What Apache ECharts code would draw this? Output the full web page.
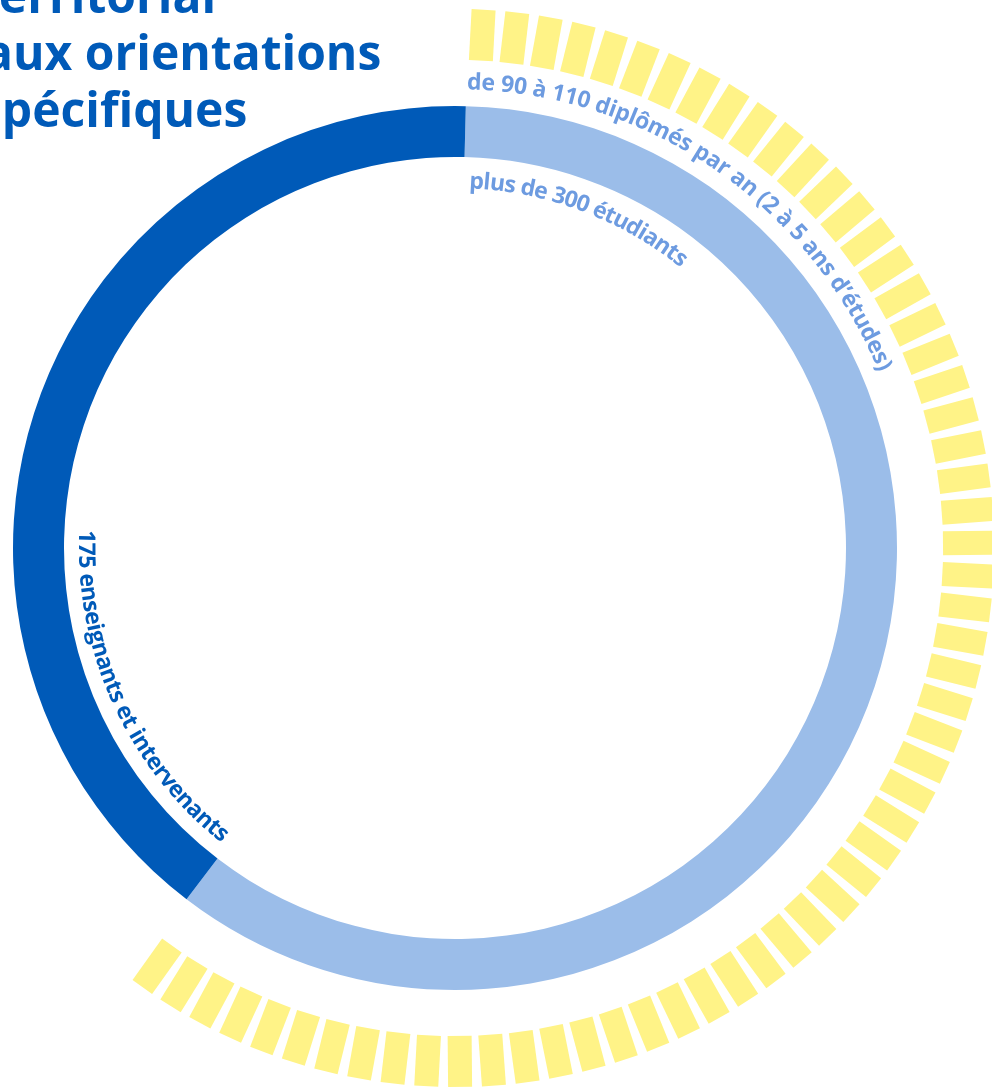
<!DOCTYPE html>
<html>
<head>
<meta charset="utf-8">
<script src="https://cdn.jsdelivr.net/npm/echarts@6/dist/echarts.min.js"></script>
<style>
html, body { margin: 0; padding: 0; background: #fff; }
#chart { width: 992px; height: 1090px; }
</style>
</head>
<body>
<div id="chart"></div>
<script>
// ring parts (share of the circle)
var ringNames = ['plus de 300 étudiants', '175 enseignants et intervenants'];
var ringShares = [60, 40];
var ringColors = ['#9bbde9', '#005ab8'];
// yellow dashes around the students part (counted on the picture)
var dashCount = 60;
// texts
var titleLines = ['territorial', 'aux orientations', 'spécifiques'];
var graduatesLabel = 'de 90 à 110 diplômés par an (2 à 5 ans d’études)';

var cx = 455, cy = 548;
var darkBlue = '#005ab8';
var labelBlue = '#6d9be0';
var labelFont = 'bold 23px "Open Sans", sans-serif';
var titleFont = 'bold 48px "Open Sans", sans-serif';
// title is cut by the left border of the picture
var titleX = [-22, -16, -22];
var titleBaselines = [18, 75, 132];

// letters along a circle; inward = tops toward the center, read counterclockwise
var measureCtx = document.createElement('canvas').getContext('2d');
function arcText(text, font, color, r, fromDeg, toDeg, inward) {
  measureCtx.font = font;
  var widths = [], total = 0;
  for (var i = 0; i < text.length; i++) {
    var w = measureCtx.measureText(text[i]).width;
    widths.push(w);
    total += w;
  }
  var els = [], acc = 0;
  for (var j = 0; j < text.length; j++) {
    var t = (acc + widths[j] / 2) / total;
    acc += widths[j];
    var deg = fromDeg + (toDeg - fromDeg) * t;
    var a = deg * Math.PI / 180;
    els.push({
      type: 'text',
      x: cx + r * Math.sin(a),
      y: cy - r * Math.cos(a),
      rotation: inward ? (180 - deg) * Math.PI / 180 : -a,
      silent: true,
      style: { text: text[j], font: font, fill: color, align: 'center', verticalAlign: 'middle' }
    });
  }
  return els;
}

var graphics = [];
titleLines.forEach(function (line, i) {
  graphics.push({
    type: 'text', x: titleX[i], y: titleBaselines[i] - 18.6, silent: true,
    style: { text: line, font: titleFont, fill: darkBlue, align: 'left', verticalAlign: 'middle' }
  });
});
graphics = graphics
  .concat(arcText(graduatesLabel, labelFont, labelBlue, 465.5, 1.5, 67.5, false))
  .concat(arcText(ringNames[0], labelFont, labelBlue, 366.5, 2.3, 38.8, false))
  .concat(arcText(ringNames[1], labelFont, darkBlue, 369.5, 272.7, 218.4, true));

var myChart = echarts.init(document.getElementById('chart'));
var option = {
  animation: false,
  graphic: graphics,
  series: [
    {
      type: 'gauge',
      center: [cx, cy],
      radius: 539,
      startAngle: 86.96,
      endAngle: -125.46,
      min: 0,
      max: dashCount - 1,
      splitNumber: dashCount - 1,
      silent: true,
      axisLine: { show: false, lineStyle: { width: 0 } },
      splitLine: { show: true, distance: 0, length: 51, lineStyle: { color: '#fff387', width: 24, cap: 'butt' } },
      axisTick: { show: false },
      axisLabel: { show: false },
      pointer: { show: false },
      anchor: { show: false },
      title: { show: false },
      detail: { show: false },
      data: []
    },
    {
      type: 'pie',
      center: [cx, cy],
      radius: [391, 442],
      startAngle: 88.6,
      clockwise: true,
      silent: true,
      label: { show: false },
      labelLine: { show: false },
      emphasis: { disabled: true },
      itemStyle: { borderWidth: 0 },
      data: ringNames.map(function (n, i) {
        return { name: n, value: ringShares[i], itemStyle: { color: ringColors[i] } };
      })
    }
  ]
};
myChart.setOption(option);
</script>
</body>
</html>
